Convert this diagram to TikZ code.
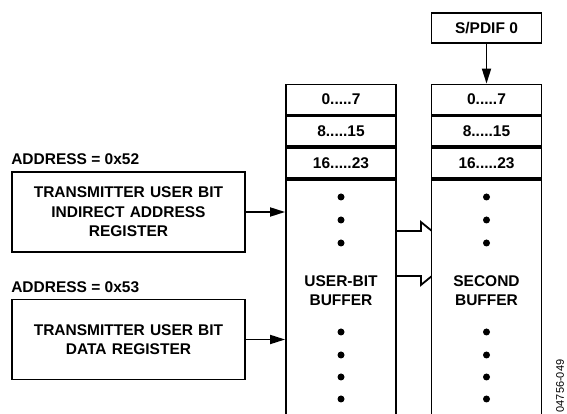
\documentclass[tikz,border=0pt]{standalone}
\usepackage{fontspec}
\setmainfont{Liberation Sans}
\usetikzlibrary{positioning,arrows.meta,calc}
\begin{document}
\begin{tikzpicture}[x=1pt, y=1pt, node distance=0pt, font=\fontsize{15.5}{19.5}\selectfont\bfseries]
    % Styles
    \tikzstyle{regblock} = [rectangle, draw, line width=1.8pt, 
        minimum width=233pt, minimum height=80pt, text width=220pt, align=center, inner sep=0pt]
    \tikzstyle{cell} = [rectangle, draw, line width=1.8pt, fill=white, 
        minimum width=110pt, minimum height=30pt, inner sep=0pt]
    \tikzstyle{bufbody} = [rectangle, draw, line width=1.8pt, fill=white, 
        minimum width=110pt, minimum height=250pt, inner sep=0pt]
    \tikzstyle{dot} = [circle, fill=black, inner sep=0pt, minimum size=7pt]
    \tikzstyle{arrow} = [line width=1.8pt, -{Triangle[length=15pt,width=9pt]}]
    \tikzstyle{busline} = [line width=1.8pt]

    \useasboundingbox (0,0) rectangle (567,414);
    \clip (0,0) rectangle (567,414);

    % === LEFT COLUMN: Registers ===
    \node [regblock] (indreg) at (128.5,202) {TRANSMITTER USER BIT\\INDIRECT ADDRESS\\REGISTER};
    \node [regblock] (datareg) at (128.5,74.5) {TRANSMITTER USER BIT\\DATA REGISTER};

    % Address labels
    \node [above=6pt of indreg.north west, anchor=south west, inner sep=0pt] (addr52) {ADDRESS = 0x52};
    \node [above=6pt of datareg.north west, anchor=south west, inner sep=0pt] (addr53) {ADDRESS = 0x53};

    % === MIDDLE COLUMN: User-bit buffer ===
    \node [cell] (lc0) at (341,314.5) {0.....7};
    \node [cell, below=of lc0] (lc1) {8.....15};
    \node [cell, below=of lc1] (lc2) {16.....23};
    \node [bufbody, below=of lc2] (lbody) {};
    \node [align=center] (ltext) at ($(lbody.north)+(0,-111.5)$) {USER-BIT\\BUFFER};

    % === BUS ===
    \draw [busline] ($(lbody.north east)+(0,-52)$) -- ++(24,0) -- ++(0,9) -- ($(lbody.north east)+(35,-52)$);
    \draw [busline] ($(lbody.north east)+(0,-97)$) -- ++(24,0) -- ++(0,-9) -- ($(lbody.north east)+(35,-97)$);

    % === RIGHT COLUMN: Second buffer ===
    \node [cell] (spdif) at (486.5,386) {S/PDIF 0};
    \node [cell] (rc0) at (486.5,314.5) {0.....7};
    \node [cell, below=of rc0] (rc1) {8.....15};
    \node [cell, below=of rc1] (rc2) {16.....23};
    \node [bufbody, below=of rc2] (rbody) {};
    \node [align=center] (rtext) at ($(rbody.north)+(0,-111.5)$) {SECOND\\BUFFER};

    % Dots
    \foreach \d in {18,41,64,153,176,198,220} {
        \node [dot] (ldot\d) at ($(lbody.north)+(0,-\d)$) {};
        \node [dot] (rdot\d) at ($(rbody.north)+(0,-\d)$) {};
    }

    % === ARROWS ===
    \draw [arrow] (indreg.east) -- (indreg.east -| lbody.west);
    \draw [arrow] (datareg.east) -- (datareg.east -| lbody.west);
    \draw [arrow] (spdif.south) -- (rc0.north);

    % Figure number
    \node [rotate=90, font=\fontsize{11}{13}\selectfont\mdseries] (figid) at (560,28) {04756-049};

\end{tikzpicture}
\end{document}
